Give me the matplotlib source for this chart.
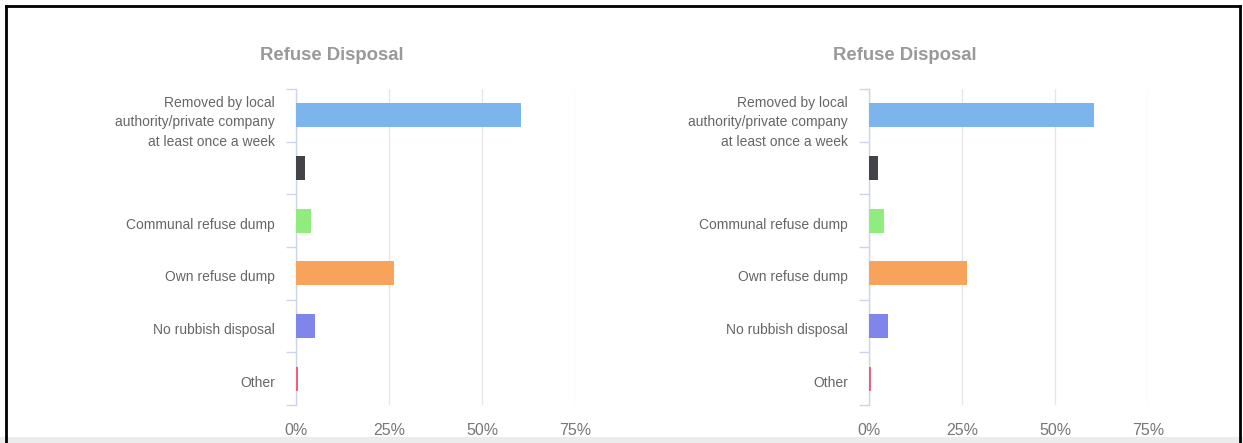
import matplotlib
matplotlib.use("Agg")
import matplotlib.pyplot as plt
import matplotlib.transforms as mtransforms
from matplotlib.lines import Line2D
from matplotlib.patches import Rectangle

# Refuse disposal shares (percent of households)
categories = [
    "Removed by local\nauthority/private company\nat least once a week",
    "",
    "Communal refuse dump",
    "Own refuse dump",
    "No rubbish disposal",
    "Other",
]
values_left = [60.5, 2.3, 3.9, 26.3, 5.0, 0.5]
values_right = [60.5, 2.4, 3.9, 26.3, 5.0, 0.5]
bar_colors = ["#7cb5ec", "#434348", "#90ed7d", "#f7a35c", "#8085e9", "#f15c80"]
x_ticks = [0, 25, 50, 75]
x_tick_labels = ["0%", "25%", "50%", "75%"]
title_text = "Refuse Disposal"

plt.rcParams["font.family"] = ["Liberation Sans", "DejaVu Sans"]

W, H = 1243, 443
fig = plt.figure(figsize=(W / 100, H / 100), dpi=100)
fig.patch.set_facecolor("white")


def px_axes(x0, x1, y0, y1):
    return [x0 / W, 1 - y1 / H, (x1 - x0) / W, (y1 - y0) / H]


def draw_panel(rect, values, title_x):
    ax = fig.add_axes(rect)
    n = len(categories)
    pos = list(range(n))
    ax.barh(pos, values, height=0.46, color=bar_colors, zorder=3)
    ax.set_xlim(0, 75)
    ax.set_ylim(n - 0.5, -0.5)

    for s in ["top", "right", "bottom"]:
        ax.spines[s].set_visible(False)
    ax.spines["left"].set_color("#ccd6eb")
    ax.spines["left"].set_linewidth(1.0)

    ax.set_xticks(x_ticks)
    ax.set_xticklabels(x_tick_labels, color="#777777", fontsize=11.5)
    ax.tick_params(axis="x", length=0, pad=13)
    ax.grid(axis="x", color="#e6e6e6", linewidth=1.0, zorder=0)

    ax.set_yticks(pos)
    ax.set_yticklabels(categories, color="#666666", fontsize=10,
                       linespacing=1.5)
    ax.tick_params(axis="y", which="major", length=0, pad=15)
    shift = mtransforms.ScaledTranslation(0, -2.5 / 100, fig.dpi_scale_trans)
    for lbl in ax.get_yticklabels():
        lbl.set_transform(lbl.get_transform() + shift)
    ax.set_yticks([p - 0.5 for p in range(n + 1)], minor=True)
    ax.tick_params(axis="y", which="minor", length=7, color="#ccd6eb",
                   width=1.0)

    fig.text(title_x / W, 1 - 56 / H, title_text, ha="center", va="center",
             fontsize=13.3, fontweight="bold", color="#999999")
    return ax


draw_panel(px_axes(296, 575, 89, 405), values_left, 332)
draw_panel(px_axes(869, 1148, 89, 405), values_right, 905)

# Frame around the figure
fig.add_artist(Rectangle((0, 0), 1, (H - 437) / H, transform=fig.transFigure,
                         facecolor="#ececec", edgecolor="none"))
frame_kw = dict(transform=fig.transFigure, color="black", linewidth=2)
fig.add_artist(Line2D([6 / W, 6 / W], [0, 1 - 6 / H], **frame_kw))
fig.add_artist(Line2D([1240 / W, 1240 / W], [0, 1 - 6 / H], **frame_kw))
fig.add_artist(Line2D([6 / W, 1240 / W], [1 - 6 / H, 1 - 6 / H], **frame_kw))

fig.savefig("out.png", dpi=100, facecolor="white")
